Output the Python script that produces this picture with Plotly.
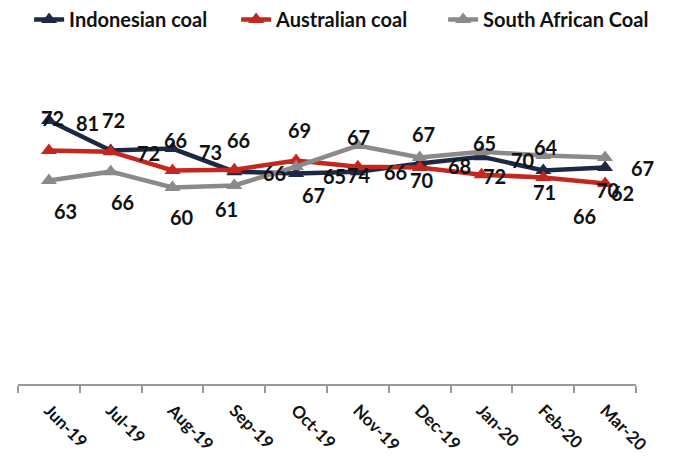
import plotly.graph_objects as go

months = ["Jun-19", "Jul-19", "Aug-19", "Sep-19", "Oct-19", "Nov-19",
          "Dec-19", "Jan-20", "Feb-20", "Mar-20"]

indonesian = [68.6, 60.8, 61.3, 55.3, 54.8, 55.3, 57.4, 59.2, 55.6, 56.4]
australian = [60.8, 60.5, 55.6, 55.8, 58.2, 56.6, 56.4, 54.5, 53.8, 52.2]
south_african = [53.0, 55.3, 51.2, 51.7, 56.6, 62.1, 59.0, 60.5, 59.5, 59.0]

indonesian_labels = [72, 72, 66, 66, 67, 74, 70, 72, 71, 70]
australian_labels = [81, 72, 73, 66, 65, 66, 68, 70, 66, 67]
south_african_labels = [63, 66, 60, 61, 69, 67, 67, 65, 64, 62]

# label offsets (style, in px: dx right, dy down)
off_ind = [(4, -3), (3, -31), (3, -9), (4, -32), (17, 21), (1, 3), (2, 16), (13, 19), (1, 21), (3, 23)]
off_aus = [(39, -28), (38, 1), (38, -19), (40, 3), (38, 15), (38, 5), (40, -1), (41, -15), (41, 39), (37, -16)]
off_sa = [(17, 31), (12, 30), (9, 30), (-8, 24), (3, -37), (1, -9), (4, -23), (3, -9), (3, -9), (17, 36)]

NAVY = "#1D2944"
RED = "#C3271E"
GRAY = "#8D8989"
FONT = "Lato"

series = [
    ("Indonesian coal", indonesian, indonesian_labels, off_ind, NAVY),
    ("Australian coal", australian, australian_labels, off_aus, RED),
    ("South African Coal", south_african, south_african_labels, off_sa, GRAY),
]

fig = go.Figure()
annotations = []
for name, vals, labs, offs, col in series:
    fig.add_trace(go.Scatter(
        x=months, y=vals, name=name, mode="lines+markers",
        line=dict(color=col, width=4.5),
        marker=dict(symbol="triangle-up", size=14, color=col),
        cliponaxis=False,
    ))
    for m, v, lab, (dx, dy) in zip(months, vals, labs, offs):
        annotations.append(dict(
            x=m, y=v, xref="x", yref="y", text=str(lab), showarrow=False,
            xshift=dx, yshift=-dy,
            font=dict(family=FONT, size=20, color="#111111", weight="bold"),
        ))

W, H = 673, 457
fig.update_layout(
    width=W, height=H,
    margin=dict(l=18, r=37, t=0, b=73),
    paper_bgcolor="white", plot_bgcolor="white",
    font=dict(family=FONT, color="#111111"),
    showlegend=True,
    legend=dict(
        orientation="h", x=0.018, xref="paper", y=1.0, xanchor="left", yanchor="top",
        entrywidth=162, entrywidthmode="pixels",
        font=dict(family=FONT, size=20, color="#111111", weight="bold"),
        bgcolor="rgba(0,0,0,0)",
    ),
    xaxis=dict(
        type="category", categoryorder="array", categoryarray=months,
        range=[-0.5, 9.5], tickson="boundaries", ticks="outside", ticklen=7,
        tickcolor="#9A9A9A", tickwidth=1.5, tickangle=45, ticklabelstandoff=8,
        tickfont=dict(family=FONT, size=17, color="#111111", weight="bold"),
        showline=True, linecolor="#9A9A9A", linewidth=1.5,
        showgrid=False, zeroline=False,
    ),
    yaxis=dict(range=[0, 100], visible=False, domain=[0, 1]),
    annotations=annotations,
)

fig.write_html("out.html")
